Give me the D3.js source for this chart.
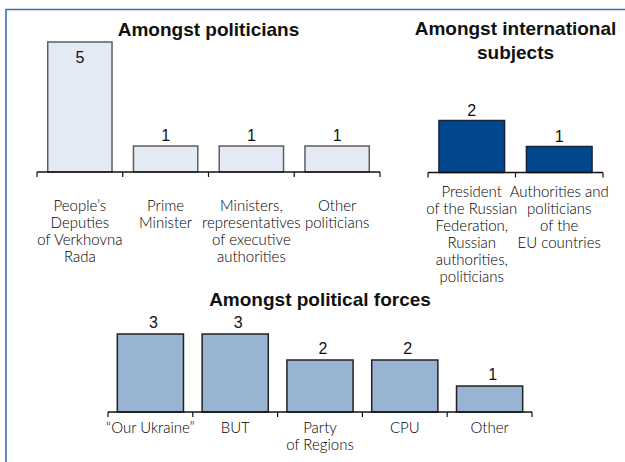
<!DOCTYPE html>
<html><head><meta charset="utf-8">
<script src="https://cdn.jsdelivr.net/npm/d3@7"></script>
<style>
html,body{margin:0;padding:0;background:#fff;}
svg{display:block;}
.title{font-family:"Liberation Sans",Arial,sans-serif;font-weight:bold;font-size:19px;fill:#111;text-anchor:middle;}
.val{font-family:"Liberation Sans",Arial,sans-serif;font-size:16px;fill:#111;text-anchor:middle;}
.cat{font-family:Lato,"Liberation Sans",Arial,sans-serif;font-weight:300;font-size:15px;fill:#000;text-anchor:middle;}
</style></head>
<body>
<svg id="c" width="625" height="462"></svg>
<script>
// Data
const polCats = ["People’s|Deputies|of Verkhovna|Rada","Prime|Minister","Ministers,|representatives|of executive|authorities","Other|politicians"];
const polVals = [5,1,1,1];
const intCats = ["President|of the Russian|Federation,|Russian|authorities,|politicians","Authorities and|politicians|of the|EU countries"];
const intVals = [2,1];
const forCats = ["“Our Ukraine”","BUT","Party|of Regions","CPU","Other"];
const forVals = [3,3,2,2,1];

const svg = d3.select("#c");

// frame
svg.append("path").attr("d","M6,462V9.5H625").attr("fill","none").attr("stroke","#3a6fb5").attr("stroke-width",1.6);

function panel(o){
  const g = svg.append("g");
  const x = d3.scaleBand().domain(o.cats).range(o.xr).paddingInner(o.pad).paddingOuter(o.pad/2);
  const y = d3.scaleLinear().domain([0,5]).range([o.base, o.base-130]);
  // title
  o.title.forEach((t,i)=>g.append("text").attr("class","title").attr("x",(o.xr[0]+o.xr[1])/2).attr("y",o.ty+i*24).text(t));
  // bars
  g.selectAll("rect.b").data(o.vals).join("rect")
    .attr("x",(d,i)=>x(o.cats[i])).attr("width",x.bandwidth())
    .attr("y",d=>y(d)).attr("height",d=>y(0)-y(d))
    .attr("fill",o.fill).attr("stroke",o.stroke).attr("stroke-width",1.5);
  // axis line + ticks at band edges
  const step = x.step();
  g.append("line").attr("x1",o.xr[0]).attr("x2",o.xr[1]).attr("y1",o.base).attr("y2",o.base).attr("stroke","#111").attr("stroke-width",1.5);
  d3.range(o.cats.length+1).forEach(i=>{
    const xx = o.xr[0]+i*step;
    g.append("line").attr("x1",xx).attr("x2",xx).attr("y1",o.base).attr("y2",o.base+5).attr("stroke","#111").attr("stroke-width",1.2);
  });
  // value labels
  g.selectAll("text.v").data(o.vals).join("text").attr("class","val")
    .attr("x",(d,i)=>x(o.cats[i])+x.bandwidth()/2+o.vdx)
    .attr("y",d=> d>=5 ? y(d)+21 : y(d)-o.vgap).text(d=>d);
  // category labels
  o.cats.forEach(c=>{
    const t = g.append("text").attr("class","cat").attr("x",x(c)+x.bandwidth()/2).attr("y",o.base+o.ly);
    c.split("|").forEach((s,j)=>t.append("tspan").attr("x",x(c)+x.bandwidth()/2).attr("dy",j?17:0).text(s));
  });
}

panel({cats:polCats, vals:polVals, xr:[37,380], pad:0.25, base:172, title:["Amongst politicians"], ty:36,
  fill:"#e3eaf3", stroke:"#5e5e5e", vgap:5, vdx:0, ly:39});
panel({cats:intCats, vals:intVals, xr:[428,603], pad:0.25, base:172.5, title:["Amongst international","subjects"], ty:35,
  fill:"#02478b", stroke:"#16253d", vgap:5, vdx:0, ly:24});
panel({cats:forCats, vals:forVals, xr:[108,532], pad:0.22, base:412, title:["Amongst political forces"], ty:306,
  fill:"#98b4d2", stroke:"#222", vgap:6, vdx:3, ly:21});
</script>
</body></html>
